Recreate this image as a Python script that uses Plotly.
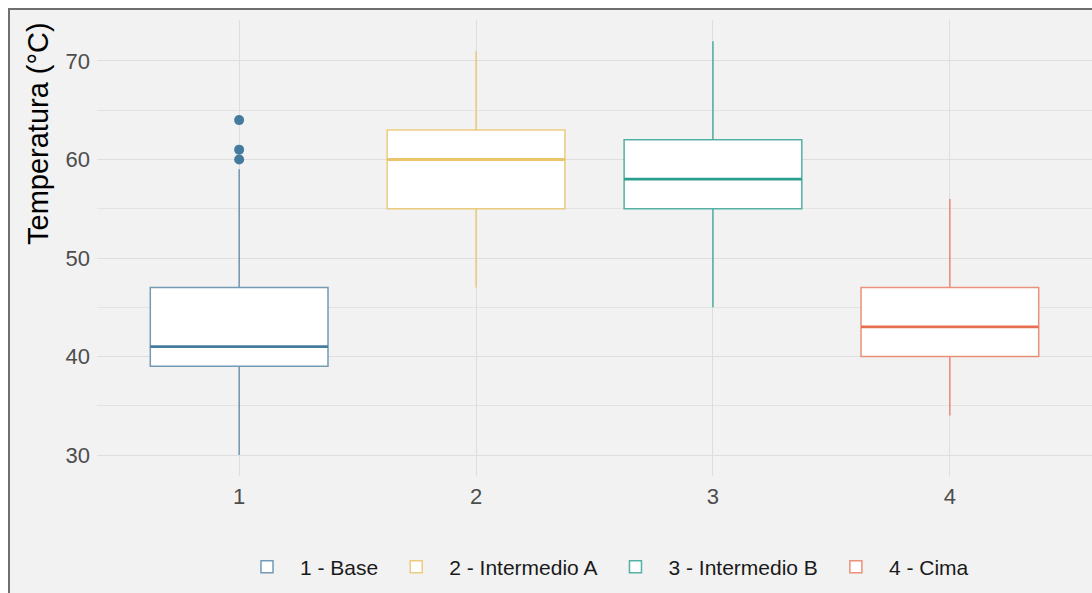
import plotly.graph_objects as go

# Temperature distribution per zone
zones = ["1 - Base", "2 - Intermedio A", "3 - Intermedio B", "4 - Cima"]
positions = [1, 2, 3, 4]
lower_whisker = [30, 47, 45, 34]
q1 = [39, 55, 55, 40]
median = [41, 60, 58, 43]
q3 = [47, 63, 62, 47]
upper_whisker = [59, 71, 72, 56]

outlier_x = [1, 1, 1]
outlier_y = [60, 61, 64]

colors = ["#457b9d", "#e9c46a", "#2a9d8f", "#e76f51"]
outline_colors = ["rgba(69,123,157,0.75)", "rgba(233,196,106,0.85)",
                  "rgba(42,157,143,0.8)", "rgba(231,111,81,0.75)"]

BOX_WIDTH = 0.75
BG = "#f2f2f2"

fig = go.Figure()

for i, name in enumerate(zones):
    fig.add_trace(go.Box(
        x=[positions[i]], name=name,
        q1=[q1[i]], median=[median[i]], q3=[q3[i]],
        lowerfence=[lower_whisker[i]], upperfence=[upper_whisker[i]],
        width=BOX_WIDTH, whiskerwidth=0,
        fillcolor="white",
        line=dict(color=outline_colors[i], width=1.5),
        boxpoints=False, hoverinfo="skip",
    ))

# darker median segments across each box
for i in range(len(zones)):
    fig.add_trace(go.Scatter(
        x=[positions[i] - BOX_WIDTH / 2, positions[i] + BOX_WIDTH / 2],
        y=[median[i], median[i]],
        mode="lines", line=dict(color=colors[i], width=2.8),
        showlegend=False, hoverinfo="skip",
    ))

fig.add_trace(go.Scatter(
    x=outlier_x, y=outlier_y, mode="markers",
    marker=dict(color=colors[0], size=10),
    showlegend=False, hoverinfo="skip",
))

L, R, T, B = 97, 0, 20, 117
W, H = 1092, 593
pw, ph = W - L - R, H - T - B

def px_x(p):
    return (p - L) / pw

def px_y(p):
    return (H - B - p) / ph

# panel background with a frame along the top and left
fig.add_shape(type="rect", xref="paper", yref="paper",
              x0=px_x(9), x1=px_x(W + 20), y0=px_y(H + 20), y1=px_y(9),
              line=dict(color="#6f6f6f", width=2), fillcolor=BG, layer="below")

fig.add_annotation(text="Temperatura (°C)", xref="paper", yref="paper",
                   x=px_x(38), y=px_y(134), textangle=-90, showarrow=False,
                   xanchor="center", yanchor="middle",
                   font=dict(size=29, color="#000000"))

fig.update_layout(
    width=W, height=H,
    margin=dict(l=L, r=R, t=T, b=B),
    paper_bgcolor="white", plot_bgcolor=BG,
    boxmode="overlay",
    font=dict(family="Liberation Sans, Arial, sans-serif"),
    showlegend=True,
    legend=dict(orientation="h", x=px_x(604), xanchor="center",
                y=px_y(567), yanchor="middle",
                font=dict(size=21, color="#1a1a1a"),
                bgcolor="rgba(0,0,0,0)", itemwidth=56),
    xaxis=dict(range=[0.4, 4.6], tickvals=positions,
               ticktext=[str(p) for p in positions],
               showgrid=True, gridcolor="#dedede", gridwidth=1,
               zeroline=False, showline=False, ticks="",
               ticklabelstandoff=5,
               tickfont=dict(size=22, color="#4d4d4d")),
    yaxis=dict(range=[27.87, 74.16], tickvals=[30, 40, 50, 60, 70],
               showgrid=True, gridcolor="#dedede", gridwidth=1,
               minor=dict(tickvals=[35, 45, 55, 65], showgrid=True,
                          gridcolor="#e3e3e3", gridwidth=1),
               zeroline=False, showline=False, ticks="",
               ticklabelstandoff=6,
               tickfont=dict(size=22, color="#4d4d4d")),
)

fig.write_html("out.html")
